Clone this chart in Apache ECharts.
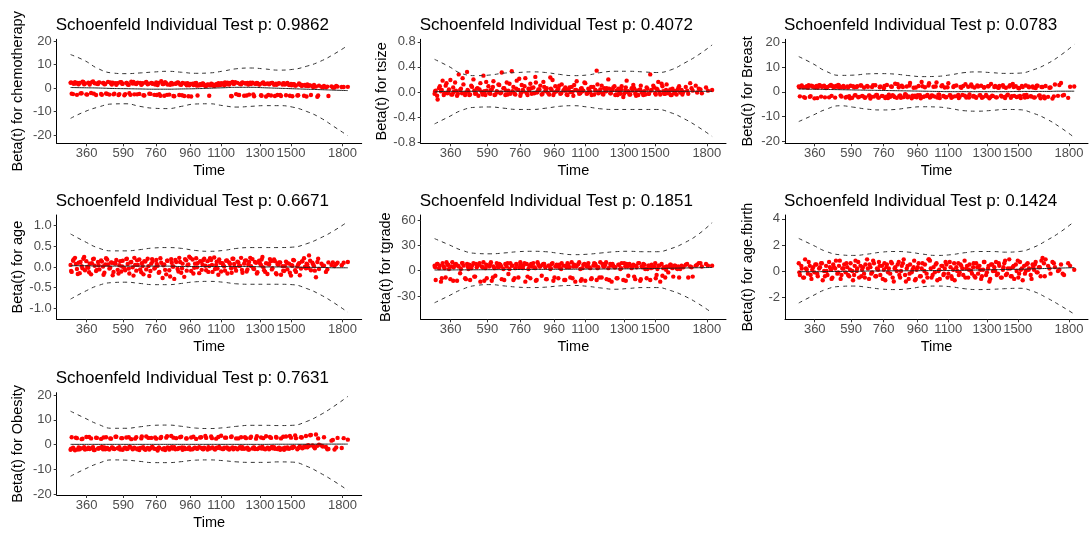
<!DOCTYPE html>
<html>
<head>
<meta charset="utf-8">
<script src="https://cdn.jsdelivr.net/npm/echarts@6/dist/echarts.min.js"></script>
<style>
html, body { margin: 0; padding: 0; background: #fff; }
#main { width: 1089px; height: 534px; }
</style>
</head>
<body>
<div id="main"></div>
<script>
// event times on the km-transformed scale (x1000), shared by every covariate
// (first 160 then 120 more in between)
var eventPos = [
  0, 4, 11, 16, 23, 29, 33, 40, 46, 52,
  57, 64, 69, 74, 81, 87, 92, 99, 104, 110,
  117, 122, 128, 135, 140, 146, 152, 158, 165, 170,
  176, 183, 188, 194, 201, 206, 212, 219, 224, 230,
  237, 242, 248, 255, 260, 266, 273, 278, 284, 291,
  296, 302, 309, 314, 320, 327, 332, 338, 345, 350,
  356, 363, 368, 374, 381, 386, 392, 399, 404, 410,
  417, 422, 428, 435, 440, 446, 453, 458, 464, 471,
  476, 482, 489, 494, 500, 507, 512, 518, 525, 530,
  536, 543, 548, 554, 561, 566, 572, 579, 584, 590,
  597, 602, 608, 615, 620, 626, 633, 638, 644, 651,
  656, 662, 669, 674, 680, 687, 692, 698, 705, 710,
  716, 723, 728, 734, 741, 746, 752, 759, 764, 770,
  777, 782, 788, 795, 800, 806, 813, 818, 824, 831,
  836, 842, 849, 854, 860, 867, 872, 878, 885, 890,
  896, 905, 914, 921, 930, 941, 952, 963, 978, 1000,
  2, 9, 19, 26, 36, 43, 49, 60, 67, 77,
  84, 95, 101, 113, 119, 125, 132, 143, 149, 155,
  162, 173, 179, 186, 197, 203, 210, 216, 227, 233,
  240, 251, 257, 263, 270, 281, 288, 294, 305, 311,
  318, 324, 335, 341, 348, 359, 365, 371, 378, 389,
  395, 402, 413, 419, 425, 432, 443, 449, 456, 467,
  473, 479, 486, 497, 503, 510, 521, 527, 533, 540,
  551, 557, 564, 575, 581, 587, 594, 605, 611, 618,
  629, 635, 641, 648, 659, 665, 672, 683, 689, 695,
  702, 713, 719, 726, 737, 743, 749, 756, 767, 773,
  780, 791, 797, 803, 810, 821, 827, 834, 845, 851,
  857, 864, 875, 881, 893, 910, 926, 946, 958, 985
];

// time axis labels and where they sit on the transformed scale
var timeLabels = ['360', '590', '760', '960', '1100', '1300', '1500', '1800'];
var timeLabelPos = [0.058, 0.190, 0.308, 0.431, 0.543, 0.683, 0.795, 0.981];

// positions of the smoothed fit / confidence band knots
var fitPos = [0, 0.05, 0.1, 0.15, 0.2, 0.25, 0.3, 0.35, 0.4, 0.45, 0.5,
  0.55, 0.6, 0.65, 0.7, 0.75, 0.8, 0.85, 0.9, 0.95, 1];

// ---- chemotherapy ----
var chemoRes = [
  2.2, -2.4, 1.8, 2.5, -2.9, 1.6, 2.1, -2.2, 2.6, 1.9,
  -2.7, 2.3, 1.5, -2.1, 2.8, 2.0, -3.0, 1.7, 2.4, -2.5,
  2.1, 1.6, -2.3, 2.6, -2.8, 1.9, 2.3, -2.4, 1.4, 2.0,
  -2.6, 2.5, 1.8, -3.1, 2.2, 1.5, -2.2, 2.7, 1.9, -2.7,
  1.7, 2.3, -2.5, 1.4, 2.0, -3.2, 2.6, 1.6, -2.4, 2.1,
  1.8, -2.9, 2.4, 1.3, -2.6, 2.9, 1.7, -3.3, 2.0, 1.5,
  -2.8, 2.2, 1.6, -3.5, 1.9, 2.4, -3.0, 1.4, 2.1, -3.4,
  1.7, 2.0, 1.2, -3.6, 1.8, 1.5, 2.2, -3.2, 1.1, 1.6,
  1.9, 1.3, 0.9, 1.5, -3.3, 1.8, 1.2, 0.8, 1.6, 1.1,
  1.4, 2.0, 1.7, 1.2, 1.9, 2.3, 1.5, -3.4, 2.6, 1.8,
  -2.6, 2.2, -3.0, 1.6, 2.4, -3.3, 1.9, 2.1, -2.8, 1.7,
  2.3, -3.5, 1.8, 2.0, 1.5, -3.1, 2.2, 1.7, -3.6, 1.9,
  1.6, -3.2, 2.1, 1.4, 1.8, -3.0, 2.0, -3.4, 1.5, 1.9,
  -3.1, 2.2, 1.3, 1.7, -3.5, 1.6, 1.1, -3.2, 1.9, 1.4,
  1.2, -3.3, 0.9, 1.5, 1.1, -3.0, 0.8, 1.3, 0.6, -3.7,
  1.0, 0.5, 0.9, 0.3, -3.4, 0.7, 0.2, 0.6, 0.4, 0.5,
  2.4, -2.6, 1.9, 2.2, -2.3, 2.7, 1.6, -2.8, 2.0, 2.5,
  -2.4, 1.8, 2.3, -2.9, 2.1, 1.7, -2.5, 2.4, 1.5, -2.7,
  2.0, -3.0, 2.5, 1.8, -2.6, 2.2, 1.4, -2.9, 2.6, 1.9,
  -2.7, 2.1, 1.6, -3.1, 2.3, 1.8, -2.5, 2.0, 1.5, -3.0,
  2.2, -3.3, 1.7, 2.5, -2.9, 1.4, 2.0, -3.4, 1.8, 2.3,
  1.5, -3.1, 1.9, 1.2, -3.5, 1.7, 1.3, 2.0, 1.0, 1.6,
  1.3, 1.8, 0.9, 1.4, 1.1, 1.7, 1.2, 1.5, 2.0, 1.3,
  1.9, 2.4, 1.6, 2.1, -3.5, 1.8, 2.5, -2.9, 1.7, 2.2,
  2.0, -3.2, 1.5, 2.3, -2.7, 1.8, 2.1, 1.6, -3.3, 2.4,
  1.7, -3.0, 1.9, 2.2, -3.4, 1.4, 1.8, -2.9, 2.0, 1.5,
  1.8, -3.3, 1.2, 1.6, 1.0, -3.1, 1.4, 0.9, 1.3, -3.6,
  0.8, 1.1, 0.4, 0.7, -3.2, 0.3, 0.6, 0.2, 0.9, 0.4
];
var chemoFit = [0.2, 0.1, 0, -0.2, -0.3, -0.4, -0.5, -0.5, -0.4, -0.3, -0.1,
  0.1, 0.3, 0.3, 0.1, -0.1, -0.3, -0.5, -0.7, -0.9, -1.1];
var chemoUp = [14.2, 11.7, 8.2, 6.4, 6.1, 6.4, 6.8, 7.1, 6.7, 6.25, 6.4,
  7.2, 8.2, 8.5, 8.1, 7.6, 7.9, 9.2, 11.3, 14.4, 18.1];
var chemoLo = [-12.9, -10.1, -8.1, -6.8, -6.7, -7.8, -8.6, -8.75, -7.8, -6.8, -6.7,
  -7.5, -8.1, -7.8, -7.5, -7.5, -8.1, -9.9, -12.6, -16.4, -20.3];

// ---- tsize ----
var tsizeRes = [
  -0.03, 0.02, -0.12, 0.06, 0.01, 0.18, -0.05, 0.10, -0.02, 0.04,
  0.19, -0.04, 0.00, 0.15, -0.06, 0.28, 0.03, -0.02, 0.12, -0.05,
  0.32, 0.01, -0.04, 0.08, 0.20, -0.03, 0.05, -0.06, 0.14, 0.00,
  0.26, -0.05, 0.02, 0.09, -0.03, 0.04, 0.17, -0.04, 0.01, 0.12,
  -0.02, 0.31, 0.06, -0.05, 0.15, 0.02, -0.03, 0.33, 0.08, -0.04,
  0.18, 0.03, -0.06, 0.11, 0.01, 0.22, -0.02, 0.05, 0.13, -0.03,
  0.07, 0.24, -0.01, 0.04, 0.10, -0.04, 0.16, 0.02, 0.06, -0.02,
  0.23, 0.03, -0.05, 0.09, 0.01, 0.05, -0.03, 0.12, 0.02, 0.07,
  -0.04, 0.04, 0.00, 0.08, -0.06, 0.03, 0.17, 0.01, -0.02, 0.06,
  0.02, 0.14, -0.03, 0.05, 0.00, -0.05, 0.08, 0.03, 0.34, -0.02,
  0.04, 0.10, -0.04, 0.01, 0.06, 0.20, -0.02, 0.03, 0.07, -0.05,
  0.02, 0.05, -0.03, 0.09, -0.08, 0.03, 0.18, 0.01, -0.04, 0.06,
  0.11, -0.03, 0.02, -0.05, 0.04, 0.00, -0.05, -0.04, 0.07, -0.03,
  0.28, 0.03, 0.10, -0.02, 0.05, 0.16, -0.04, 0.13, 0.01, -0.03,
  0.12, -0.02, 0.04, -0.05, 0.02, 0.01, -0.04, 0.06, -0.01, 0.03,
  0.00, 0.08, -0.03, 0.14, 0.02, 0.10, 0.05, -0.02, 0.07, 0.03,
  0.01, -0.06, 0.09, 0.03, -0.02, 0.14, 0.00, -0.04, 0.07, 0.02,
  -0.03, 0.05, 0.22, -0.01, 0.03, -0.05, 0.10, 0.02, -0.02, 0.06,
  0.04, -0.04, 0.01, 0.16, -0.02, 0.03, 0.08, -0.05, 0.00, 0.11,
  -0.01, 0.06, 0.02, -0.04, 0.13, 0.01, -0.03, 0.05, 0.21, -0.02,
  0.03, 0.09, -0.05, 0.02, 0.06, -0.02, 0.15, 0.00, 0.04, -0.03,
  0.08, 0.01, -0.04, 0.05, 0.19, -0.01, 0.03, 0.10, -0.02, 0.04,
  0.02, -0.05, 0.07, 0.00, 0.11, 0.03, -0.03, 0.05, 0.01, 0.15,
  -0.02, 0.04, 0.08, -0.04, 0.02, 0.12, 0.00, -0.03, 0.06, 0.01,
  0.05, -0.02, 0.03, 0.09, -0.05, 0.01, 0.04, -0.03, 0.07, 0.00,
  -0.04, 0.02, 0.06, -0.06, 0.03, 0.10, -0.02, 0.01, 0.05, -0.03,
  0.02, 0.07, -0.04, 0.04, 0.00, 0.09, -0.03, 0.03, 0.01, -0.05,
  0.05, -0.02, 0.03, 0.09, -0.04, 0.02, 0.06, -0.01, 0.04, 0.02
];
var tsizeFit = [0.0, 0.01, 0.01, 0.01, 0.01, 0.01, 0.01, 0.01, 0.01, 0.01, 0.01,
  0.01, 0.01, 0.01, 0.01, 0.01, 0.01, 0.01, 0.01, 0.01, 0.01];
var tsizeUp = [0.52, 0.41, 0.29, 0.26, 0.27, 0.30, 0.31, 0.32, 0.31, 0.28, 0.26,
  0.27, 0.31, 0.33, 0.33, 0.32, 0.31, 0.35, 0.46, 0.59, 0.75];
var tsizeLo = [-0.51, -0.40, -0.29, -0.245, -0.24, -0.26, -0.28, -0.28, -0.26, -0.23, -0.22,
  -0.24, -0.27, -0.28, -0.28, -0.28, -0.28, -0.33, -0.43, -0.56, -0.71];

// ---- Breast ----
var breastRes = [
  2.2, -1.8, 2.6, 1.9, -2.4, 2.3, 1.7, -2.0, 2.5, 2.1,
  -2.6, 2.4, 1.8, 2.7, -1.9, 2.2, 2.5, 1.6, 2.0, -2.2,
  2.8, 2.3, 1.9, 2.4, 2.1, 2.6, -1.5, 2.0, 1.8, -2.3,
  2.2, -1.7, 2.5, -2.4, 1.9, -1.3, 2.3, -2.0, 2.6, -1.6,
  1.8, -2.2, 2.4, -1.4, -2.7, 2.0, -1.9, 2.7, -1.2, -2.3,
  2.2, -1.6, 1.5, -2.5, 2.8, -1.1, -2.0, 2.1, -1.7, 3.3,
  -2.4, 1.9, -1.4, 2.5, -2.1, -0.9, 2.2, -1.8, 3.6, -2.6,
  1.7, -1.5, -2.2, 2.4, -1.3, 4.0, -2.0, 1.9, -1.7, 2.6,
  -2.3, -1.4, 2.1, -1.9, 3.8, -1.1, -2.5, 2.3, -1.6, 1.8,
  -2.1, 3.5, -1.3, -2.4, 2.0, -1.8, 2.6, -1.2, -2.0, 1.7,
  2.4, -1.5, -2.3, 2.1, -1.0, 3.0, -1.9, 1.8, -2.4, 2.2,
  -1.4, 2.5, -2.1, 1.9, -1.2, 2.3, -2.6, 3.2, -1.7, 2.0,
  -2.2, 1.8, 2.4, -1.5, 2.7, -2.0, 1.7, -1.1, 2.2, -2.4,
  3.2, -1.6, 2.3, -1.9, 1.5, -2.5, 2.0, -1.3, 2.6, -2.1,
  1.9, -1.7, 2.2, -2.3, 1.6, 2.5, -1.5, -2.6, 2.0, -1.8,
  2.4, -2.0, 1.8, -2.7, 3.0, -1.6, 3.6, -1.2, -2.4, 2.2,
  1.9, 2.4, -2.1, 2.0, 2.7, -1.7, 2.3, 1.8, -2.5, 2.6,
  2.1, -2.2, 1.7, 2.5, -1.6, 2.2, -2.3, 2.8, 1.9, -1.9,
  2.4, -2.0, 1.8, -2.6, 2.3, -1.4, 2.0, -2.2, 2.6, -1.8,
  -2.4, 2.1, -1.5, -2.0, 2.7, -1.2, -2.3, 1.9, -1.7, 2.4,
  -1.9, -2.5, 2.2, -1.3, -2.1, 3.1, -1.6, -2.4, 2.0, -1.1,
  -2.2, 2.6, -1.5, -2.0, 1.8, -1.3, -2.6, 2.3, -1.8, -1.2,
  3.5, -2.0, -1.5, 2.2, -2.3, -1.1, 2.7, -1.8, -2.2, 1.9,
  -1.4, -2.1, 2.4, -1.7, -2.5, 2.0, -1.2, 3.1, -1.9, -2.3,
  2.2, -1.6, -2.0, 2.6, -1.3, -2.4, 1.8, -1.8, 2.3, -2.1,
  -1.5, 2.4, -2.2, 1.7, -1.9, 2.1, -2.5, -1.4, 2.7, -1.7,
  2.0, -2.1, 1.6, -1.6, 2.4, -2.3, -1.2, 2.2, -1.9, 1.8,
  -2.2, 2.5, -1.4, 2.0, -2.6, 1.7, -1.8, 2.8, -1.5, 2.1
];
var breastFit = [1.2, 1.1, 1.0, 0.9, 0.8, 0.7, 0.6, 0.5, 0.4, 0.3, 0.2,
  0.1, 0.1, 0.1, 0.1, 0.1, 0.2, 0.2, 0.2, 0.3, 0.3];
var breastUp = [14.3, 11.5, 8.3, 6.7, 6.8, 7.3, 7.4, 7.2, 6.6, 6.2, 6.3,
  6.9, 7.8, 8.1, 7.8, 7.5, 7.6, 8.9, 11.3, 14.8, 19.2];
var breastLo = [-12, -9.5, -7, -5.6, -6.2, -7, -7.3, -7.1, -6.4, -6, -6.1,
  -6.7, -7.6, -7.8, -7.5, -7.1, -7.2, -8.6, -11, -14.4, -18.4];

// ---- age ----
var ageRes = [
  0.05, -0.12, 0.18, 0.22, -0.05, 0.10, -0.15, 0.02, 0.20, -0.08,
  0.14, -0.02, 0.08, -0.18, 0.19, 0.03, -0.10, 0.12, -0.06, 0.16,
  0.01, -0.14, 0.21, 0.06, -0.04, 0.11, -0.20, 0.09, 0.17, -0.07,
  0.04, -0.11, 0.15, -0.03, 0.19, 0.07, -0.16, 0.12, -0.01, 0.22,
  -0.09, 0.05, 0.18, -0.13, 0.02, 0.14, -0.06, 0.20, -0.22, 0.08,
  0.13, -0.04, 0.17, 0.03, -0.12, 0.10, -0.27, 0.06, -0.18, 0.15,
  -0.08, 0.19, 0.01, -0.29, 0.12, -0.05, 0.22, -0.14, 0.08, -0.24,
  0.16, 0.04, 0.25, -0.10, 0.18, -0.02, 0.21, 0.09, -0.15, 0.13,
  0.06, 0.20, -0.08, 0.14, 0.02, 0.17, -0.12, 0.23, 0.05, -0.04,
  0.18, -0.11, 0.09, 0.01, 0.15, -0.16, 0.11, -0.03, 0.20, 0.07,
  -0.09, 0.13, 0.03, 0.22, -0.14, 0.08, 0.16, -0.06, 0.12, 0.02,
  0.19, -0.05, 0.10, -0.13, 0.15, 0.04, 0.24, -0.08, 0.09, -0.17,
  0.06, 0.14, -0.03, 0.18, -0.15, 0.07, 0.11, -0.19, 0.02, -0.10,
  0.13, -0.06, 0.08, -0.21, 0.03, 0.16, -0.12, 0.01, 0.09, -0.04,
  0.14, 0.21, -0.03, 0.06, 0.28, -0.08, 0.10, 0.02, -0.25, 0.12,
  -0.05, 0.08, 0.03, -0.12, 0.11, 0.05, 0.02, 0.10, 0.04, 0.12,
  -0.10, 0.15, 0.07, -0.17, 0.12, -0.03, 0.24, 0.00, -0.13, 0.09,
  0.20, -0.07, 0.04, 0.13, -0.19, 0.06, 0.18, -0.02, 0.10, -0.12,
  0.08, -0.16, 0.14, 0.01, -0.08, 0.20, -0.04, 0.11, -0.21, 0.05,
  0.16, -0.06, 0.09, -0.18, 0.13, 0.02, -0.10, 0.19, -0.02, 0.07,
  -0.14, 0.21, 0.04, -0.07, 0.15, -0.23, 0.10, 0.01, 0.17, -0.11,
  0.12, -0.03, 0.19, -0.09, 0.06, 0.22, -0.16, 0.08, -0.01, 0.14,
  -0.07, 0.17, 0.03, -0.12, 0.21, 0.05, -0.05, 0.13, -0.19, 0.10,
  0.04, -0.09, 0.16, 0.07, -0.14, 0.20, -0.02, 0.11, 0.03, -0.07,
  0.15, -0.11, 0.06, 0.22, -0.04, 0.12, -0.16, 0.09, 0.18, -0.01,
  -0.12, 0.08, 0.19, -0.06, 0.14, -0.18, 0.05, 0.11, -0.09, 0.02,
  0.10, -0.14, 0.04, 0.17, -0.08, 0.06, -0.20, 0.13, 0.00, 0.08,
  -0.02, 0.15, 0.06, -0.09, 0.20, 0.03, -0.06, 0.11, 0.07, 0.10
];
var ageFit = [0.03, 0.03, 0.02, 0.02, 0.02, 0.02, 0.02, 0.02, 0.01, 0.01, 0.01,
  0.01, 0.01, 0.01, 0.0, 0.0, 0.0, -0.01, -0.01, -0.02, -0.02];
var ageUp = [0.80, 0.62, 0.46, 0.39, 0.39, 0.42, 0.46, 0.47, 0.45, 0.40, 0.38,
  0.40, 0.45, 0.47, 0.47, 0.47, 0.48, 0.56, 0.70, 0.88, 1.10];
var ageLo = [-0.78, -0.60, -0.45, -0.38, -0.37, -0.40, -0.43, -0.43, -0.40, -0.36, -0.35,
  -0.37, -0.41, -0.42, -0.42, -0.42, -0.43, -0.52, -0.67, -0.87, -1.10];

// ---- tgrade ----
var tgradeRes = [
  6, -11, 8, 3, -13, 9, 5, -8, 7, 2,
  -10, 10, 4, 7, -12, 5, -3, 9, 6, -9,
  8, 2, -11, 6, 9, -7, 4, 7, -13, 5,
  10, 3, -9, 6, 8, -12, 5, -6, 9, 4,
  7, -10, 2, 8, 5, -4, 9, 6, -11, 3,
  7, -8, 10, 4, 6, -13, 8, 2, -9, 5,
  9, 3, -11, 7, 5, -6, 8, 4, -10, 6,
  2, 8, -12, 5, 7, -9, 3, 9, 6, -11,
  4, 7, -8, 10, 5, -13, 6, 8, 2, -10,
  7, -12, 5, 9, 3, -9, 6, 8, -11, 4,
  10, -8, 5, 7, -10, 3, 8, -13, 6, 4,
  -9, 7, 2, 9, -11, 5, 8, -6, 6, 3,
  7, -10, 4, 9, -12, 5, 8, 2, -9, 6,
  -11, 7, 4, 9, -5, 6, -13, 8, 3, -8,
  5, -2, 7, 4, -7, 6, 3, 5, 2, 6,
  4, 7, -8, 5, -7, 6, 9, 5, 8, 6,
  4, 8, 6, -9, 3, 10, 7, 5, -12, 8,
  6, 2, 9, -10, 5, 7, 3, -7, 8, 6,
  9, 4, -12, 7, 5, 10, -8, 3, 6, 8,
  5, -11, 7, 9, 2, 6, -9, 8, 4, 7,
  3, 9, -7, 6, 8, 4, -12, 10, 5, 7,
  8, -10, 6, 3, 9, -8, 5, 7, 2, -11,
  6, 9, 4, -9, 7, 5, 10, -12, 3, 8,
  7, 4, -10, 9, 6, 3, -8, 8, 5, 10,
  -11, 6, 8, 4, -9, 7, 3, 9, -12, 5,
  8, 5, -7, 6, 9, -10, 4, 7, 2, 6,
  3, 5, -9, 2, 6, -6, 4, 1, 5, 7,
  3, 6, 2, -8, 5, 8, 4, 7, 9, 6
];
var tgradeFit = [0.8, 0.9, 1.0, 1.1, 1.2, 1.3, 1.4, 1.5, 1.6, 1.7, 1.8,
  1.9, 2.0, 2.1, 2.2, 2.4, 2.6, 2.9, 3.2, 3.5, 3.8];
var tgradeUp = [38, 31, 24, 20.5, 20, 21, 22.5, 23, 22.5, 20.5, 19,
  19.5, 21, 22.5, 23, 22.5, 22.5, 26, 33, 43, 57];
var tgradeLo = [-38, -30, -22, -17.5, -16.5, -18, -19.5, -20, -19.5, -18, -17.5,
  -18.5, -20.5, -22, -21, -20, -20, -23.5, -30, -39, -50];

// ---- age.fbirth ----
var fbirthRes = [
  0.6, -0.3, 0.2, -0.5, 0.9, 0.1, -0.2, 0.4, -0.6, 0.3,
  -0.1, 0.5, -0.4, 0.2, 0.6, -0.7, 0.0, 0.4, -0.3, 0.7,
  0.1, -0.5, 0.3, 0.8, -0.2, 0.4, -0.6, 0.2, 0.5, -0.1,
  0.3, -0.4, 0.6, 0.0, -0.3, 0.8, 0.2, -0.5, 0.4, 0.1,
  -0.2, 0.5, 0.9, -0.6, 0.3, -0.1, 0.6, -0.4, 0.2, 0.7,
  -0.3, 0.4, 0.1, -0.7, 0.5, 0.2, -0.2, 0.6, -0.8, 0.3,
  0.0, 0.7, -0.5, 0.4, 0.9, -0.3, 0.2, -0.6, 0.5, -0.1,
  0.3, -0.7, 0.1, 0.6, -0.4, 0.2, -0.8, 0.5, -0.2, 0.9,
  0.8, -0.5, 0.3, -0.1, 0.6, 0.0, -0.6, 0.4, -0.3, 0.2,
  0.5, -0.2, 0.7, -0.4, 0.1, -0.7, 0.3, 0.6, -0.1, 0.4,
  -0.3, 0.8, 0.2, -0.5, 0.5, 0.0, 0.3, -0.4, 0.6, -0.2,
  0.4, -0.6, 0.1, 0.7, -0.3, 0.2, -0.8, 0.5, 0.0, 0.3,
  0.7, -0.2, 0.4, -0.5, 0.1, 0.6, -0.3, 0.2, 0.9, -0.4,
  0.3, -0.6, 0.5, 0.8, -0.2, 0.1, -0.7, 0.4, 0.0, 0.6,
  0.2, -0.3, 0.5, 0.1, 0.7, -0.1, 0.3, -0.4, 1.0, 0.6,
  0.9, 0.4, -0.2, 0.7, 0.3, 0.0, 0.5, -0.3, 0.6, 0.1,
  -0.1, 0.4, -0.5, 0.2, 0.7, -0.3, 0.1, 0.5, -0.2, 0.3,
  0.6, -0.4, 0.0, 0.3, -0.6, 0.5, 0.2, -0.1, 0.8, -0.3,
  0.2, 0.6, -0.3, 0.1, -0.7, 0.4, 0.0, 0.7, -0.4, 0.3,
  -0.5, 0.2, 0.5, -0.2, 0.8, -0.4, 0.1, 0.4, -0.6, 0.6,
  0.3, -0.1, 0.7, -0.5, 0.2, 0.5, -0.3, 0.0, 0.6, -0.8,
  0.4, -0.2, 0.1, 0.8, -0.6, 0.3, -0.4, 0.6, 0.0, -0.5,
  0.9, 0.2, -0.3, 0.5, -0.7, 0.1, 0.4, -0.2, 0.7, -0.5,
  0.3, -0.6, 0.6, 0.0, -0.3, 0.5, 0.2, -0.5, 0.4, 0.1,
  -0.2, 0.6, -0.5, 0.3, 0.1, -0.4, 0.7, -0.1, 0.4, -0.6,
  0.5, 0.0, -0.3, 0.6, -0.5, 0.3, 0.8, -0.2, 0.2, -0.4,
  0.4, 0.0, -0.5, 0.7, 0.2, -0.2, 0.5, 0.1, -0.6, 0.3,
  0.5, -0.1, 0.3, 0.8, -0.4, 0.2, 0.6, 0.1, -0.2, 0.4
];
var fbirthFit = [-0.05, -0.05, -0.04, -0.03, -0.02, 0, 0.01, 0.02, 0.02, 0.03, 0.04,
  0.05, 0.06, 0.08, 0.1, 0.12, 0.14, 0.17, 0.2, 0.23, 0.26];
var fbirthUp = [2.5, 2.0, 1.5, 1.25, 1.2, 1.3, 1.45, 1.5, 1.45, 1.3, 1.2,
  1.25, 1.4, 1.5, 1.5, 1.45, 1.5, 1.8, 2.35, 3.0, 3.8];
var fbirthLo = [-2.45, -1.9, -1.4, -1.18, -1.15, -1.25, -1.38, -1.42, -1.35, -1.2, -1.15,
  -1.2, -1.35, -1.42, -1.4, -1.35, -1.32, -1.55, -2.05, -2.65, -3.3];

// ---- Obesity ----
var obesityRes = [
  -2.1, 3.0, -1.6, -2.3, 2.6, -1.2, -1.9, 2.2, -1.5, -2.0,
  3.1, -1.3, -1.8, 2.5, -1.1, -2.2, 2.8, -1.6, -1.4, 2.3,
  -1.9, -1.2, 3.0, -1.7, -2.0, 2.4, -1.3, -1.8, 3.2, -1.5,
  -1.1, 2.6, -2.1, -1.4, 2.9, -1.7, -1.0, 2.2, -1.9, -1.3,
  3.0, -1.6, -2.2, 2.5, -1.2, -1.8, 3.3, -1.4, -2.0, 2.7,
  -1.1, -1.7, 2.4, -2.4, -1.3, 3.1, -1.9, -1.5, 2.8, -1.2,
  -2.0, 3.5, -1.6, -1.1, 2.6, -1.8, -1.4, 3.2, -2.1, -1.3,
  2.5, -1.7, -1.2, 2.9, -1.9, -1.4, 2.3, -1.6, -1.1, 3.0,
  -1.8, -1.3, 2.7, -2.0, -1.5, 3.3, -1.2, -1.7, 2.4, -1.4,
  -1.0, 3.6, -1.8, -1.3, 2.8, -1.6, -2.0, 3.1, -1.2, -1.5,
  2.5, -1.9, -1.4, 3.0, -1.1, -1.7, 2.6, -1.3, -2.0, 3.2,
  -1.6, -1.2, 2.4, -1.8, -1.4, 2.9, -1.0, -1.7, 3.4, -1.3,
  -1.9, 2.7, -1.5, -1.1, 3.1, -1.8, -1.3, 2.5, -1.6, -2.1,
  3.3, -1.2, -1.7, 2.8, -1.4, -1.0, 2.6, -1.9, -1.3, 3.0,
  -1.5, -0.8, 3.5, -1.1, -0.6, 3.9, -0.3, -0.9, 4.1, -0.5,
  0.0, -0.4, 3.0, -1.0, -1.8, 1.6, -2.0, 2.7, -1.4, 2.0,
  -1.7, -1.3, 2.8, -2.0, -1.5, 2.4, -1.1, -1.8, 3.1, -1.4,
  -2.2, 2.7, -1.6, -1.0, 2.9, -1.9, -1.4, 2.5, -1.2, -1.7,
  3.2, -1.5, -2.0, 2.6, -1.3, -1.8, 3.0, -1.1, -1.6, 2.4,
  -1.9, -1.4, 3.3, -1.2, -2.1, 2.7, -1.5, -1.0, 2.9, -1.8,
  -1.3, 2.6, -1.7, -2.2, 3.4, -1.4, -1.1, 2.8, -1.9, -1.5,
  3.0, -1.2, -1.8, 2.5, -1.6, -2.0, 3.2, -1.3, -1.7, 2.9,
  -1.4, -1.9, 3.5, -1.1, -1.6, 2.6, -2.0, -1.3, 3.1, -1.5,
  -1.8, 2.8, -1.2, -1.6, 3.3, -1.9, -1.4, 2.5, -1.1, -1.7,
  3.0, -1.5, -2.0, 2.7, -1.3, -1.8, 3.4, -1.2, -1.6, 2.6,
  -1.9, -1.4, 3.1, -1.0, -1.7, 2.8, -1.5, -2.1, 3.2, -1.3,
  -1.6, 3.5, -1.2, -0.9, 3.7, -1.4, -0.7, 2.9, -1.1, -0.6,
  -0.2, 3.8, -0.5, -1.5, 2.5, -0.8, -1.9, 1.9, -1.2, 2.6
];
var obesityFit = [0.1, 0.1, 0.1, 0.1, 0.1, 0.1, 0.1, 0.1, 0.1, 0.1, 0.1,
  0.1, 0.1, 0.1, 0.1, 0.15, 0.15, 0.15, 0.2, 0.2, 0.2];
var obesityUp = [13.5, 10.8, 8.2, 6.6, 6.6, 7.2, 7.8, 7.9, 7.4, 6.7, 6.5,
  6.8, 7.4, 7.8, 7.8, 7.7, 7.8, 9.3, 12, 15.5, 19.5];
var obesityLo = [-12.8, -10, -7.6, -6.2, -6.3, -6.8, -7.3, -7.3, -6.9, -6.3, -6.2,
  -6.5, -7, -7.2, -7.2, -7, -7.1, -8.7, -11.5, -14.8, -18.5];

var panels = [
  { name: 'chemotherapy', p: '0.9862', res: chemoRes, fit: chemoFit, up: chemoUp, lo: chemoLo,
    min: -23.5, max: 20.7, ticks: [-20, -10, 0, 10, 20], dec: 0 },
  { name: 'tsize', p: '0.4072', res: tsizeRes, fit: tsizeFit, up: tsizeUp, lo: tsizeLo,
    min: -0.82, max: 0.84, ticks: [-0.8, -0.4, 0, 0.4, 0.8], dec: 1 },
  { name: 'Breast', p: '0.0783', res: breastRes, fit: breastFit, up: breastUp, lo: breastLo,
    min: -20.8, max: 21.3, ticks: [-20, -10, 0, 10, 20], dec: 0 },
  { name: 'age', p: '0.6671', res: ageRes, fit: ageFit, up: ageUp, lo: ageLo,
    min: -1.27, max: 1.26, ticks: [-1, -0.5, 0, 0.5, 1], dec: 1 },
  { name: 'tgrade', p: '0.1851', res: tgradeRes, fit: tgradeFit, up: tgradeUp, lo: tgradeLo,
    min: -57.6, max: 66, ticks: [-30, 0, 30, 60], dec: 0 },
  { name: 'age.fbirth', p: '0.1424', res: fbirthRes, fit: fbirthFit, up: fbirthUp, lo: fbirthLo,
    min: -3.7, max: 4.3, ticks: [-2, 0, 2, 4], dec: 0 },
  { name: 'Obesity', p: '0.7631', res: obesityRes, fit: obesityFit, up: obesityUp, lo: obesityLo,
    min: -20.4, max: 21, ticks: [-20, -10, 0, 10, 20], dec: 0 }
];

// pixel boxes of the plotting panels
var boxes = [
  { left: 56.7, top: 39.3, width: 305, height: 104, gap: 31 },
  { left: 420.7, top: 39.3, width: 305.3, height: 104, gap: 26 },
  { left: 785, top: 39.3, width: 303, height: 104, gap: 30 },
  { left: 56.7, top: 215, width: 305, height: 104.3, gap: 31 },
  { left: 420.7, top: 215, width: 305.3, height: 104.3, gap: 26 },
  { left: 785, top: 215, width: 303, height: 104.3, gap: 30 },
  { left: 56.7, top: 392.7, width: 305, height: 102.3, gap: 31 }
];

var FONT = '"Liberation Sans", Arial, sans-serif';
var option = { animation: false, title: [], grid: [], xAxis: [], yAxis: [], series: [] };

function pairs(xs, ys) {
  var out = [];
  for (var i = 0; i < ys.length; i++) out.push([xs[i], ys[i]]);
  return out;
}

var eventX = eventPos.map(function (v) { return v / 1000; });

panels.forEach(function (pn, i) {
  var b = boxes[i];
  option.title.push({
    text: 'Schoenfeld Individual Test p: ' + pn.p,
    left: b.left - 1, top: b.top - 22.5, padding: 0,
    textStyle: { fontFamily: FONT, fontSize: 17, fontWeight: 'normal', color: '#000' }
  });
  option.grid.push({ left: b.left, top: b.top, width: b.width, height: b.height });
  option.xAxis.push({
    type: 'value', gridIndex: i, min: -0.05, max: 1.05,
    name: 'Time', nameLocation: 'middle', nameGap: 20,
    nameTextStyle: { fontFamily: FONT, fontSize: 14.5, color: '#000' },
    splitLine: { show: false },
    axisLine: { onZero: false, lineStyle: { color: '#000', width: 1 } },
    axisTick: { customValues: timeLabelPos, length: 3, lineStyle: { color: '#333' } },
    axisLabel: {
      customValues: timeLabelPos, margin: 4,
      fontFamily: FONT, fontSize: 13, color: '#4D4D4D',
      formatter: function (v) {
        var k = 0, d = 9;
        timeLabelPos.forEach(function (p, j) { if (Math.abs(p - v) < d) { d = Math.abs(p - v); k = j; } });
        return timeLabels[k];
      }
    }
  });
  option.yAxis.push({
    type: 'value', gridIndex: i, min: pn.min, max: pn.max,
    name: 'Beta(t) for ' + pn.name, nameLocation: 'middle', nameGap: b.gap,
    nameTextStyle: { fontFamily: FONT, fontSize: 14.5, color: '#000' },
    splitLine: { show: false },
    axisLine: { show: true, onZero: false, lineStyle: { color: '#000', width: 1 } },
    axisTick: { show: true, customValues: pn.ticks, length: 3, lineStyle: { color: '#333' } },
    axisLabel: {
      customValues: pn.ticks, margin: 5,
      fontFamily: FONT, fontSize: 13, color: '#4D4D4D',
      formatter: function (v) { return v.toFixed(pn.dec); }
    }
  });
  option.series.push({
    type: 'scatter', xAxisIndex: i, yAxisIndex: i, silent: true,
    symbol: 'circle', symbolSize: 4.4,
    itemStyle: { color: '#FF0000', opacity: 1 },
    data: pairs(eventX, pn.res)
  });
  [pn.up, pn.lo].forEach(function (band) {
    option.series.push({
      type: 'line', xAxisIndex: i, yAxisIndex: i, silent: true, smooth: true,
      symbol: 'none', lineStyle: { color: '#333', width: 1, type: [4, 4] },
      data: pairs(fitPos, band)
    });
  });
  option.series.push({
    type: 'line', xAxisIndex: i, yAxisIndex: i, silent: true, smooth: true,
    symbol: 'none', lineStyle: { color: '#222', width: 1 },
    data: pairs(fitPos, pn.fit)
  });
});

var chart = echarts.init(document.getElementById('main'));
chart.setOption(option);
</script>
</body>
</html>
